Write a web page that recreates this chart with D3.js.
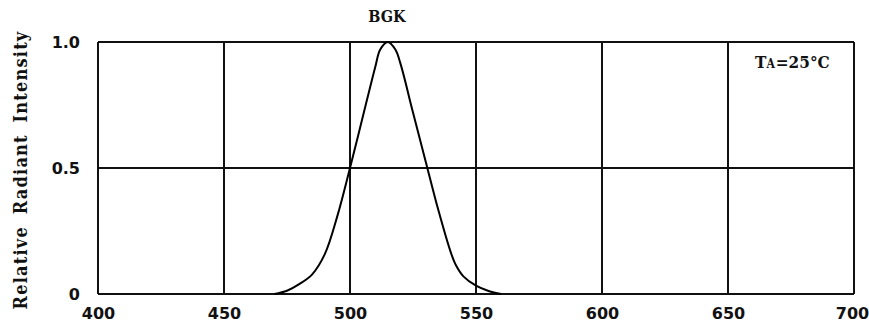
<!DOCTYPE html>
<html>
<head>
<meta charset="utf-8">
<script src="https://cdn.jsdelivr.net/npm/d3@7"></script>
<style>
  body { margin: 0; background: #fff; }
  .tick text { font-family: "DejaVu Sans", sans-serif; font-weight: bold; font-size: 16px; fill: #111; }
  .lbl { font-family: "DejaVu Serif Condensed", "DejaVu Serif", serif; font-weight: bold; fill: #111; }
</style>
</head>
<body>
<div id="chart"></div>
<script>
// spectrum
const wavelength = [470, 475, 480, 485, 490, 495, 500, 505, 510, 512, 515, 518, 520, 525, 530, 535, 540, 542, 545, 550, 555, 560];
const intensity  = [0, 0.013, 0.04, 0.078, 0.158, 0.31, 0.5, 0.7, 0.9, 0.97, 1.0, 0.97, 0.915, 0.72, 0.527, 0.335, 0.165, 0.115, 0.07, 0.033, 0.012, 0];

const xTicks = [400, 450, 500, 550, 600, 650, 700];
const yTicks = [0, 0.5, 1.0];
const yTickLabels = ["0", "0.5", "1.0"];

const margin = { top: 42, left: 98 };

const svg = d3.select("#chart")
    .append("svg")
    .attr("width", 869)
    .attr("height", 329);

const g = svg.append("g")
    .attr("transform", `translate(${margin.left}, ${margin.top})`);

const x = d3.scaleLinear().domain([400, 700]).range([0, 756]);
const y = d3.scaleLinear().domain([0, 1]).range([252, 0]);

// grid
g.selectAll(".vgrid")
    .data(xTicks)
    .join("line")
    .attr("x1", d => x(d)).attr("x2", d => x(d))
    .attr("y1", 0).attr("y2", y(0))
    .attr("stroke", "#111").attr("stroke-width", 2);

g.selectAll(".hgrid")
    .data(yTicks)
    .join("line")
    .attr("x1", 0).attr("x2", x(700))
    .attr("y1", d => y(d)).attr("y2", d => y(d))
    .attr("stroke", "#111").attr("stroke-width", 2);

// axes (labels only)
g.append("g")
    .attr("transform", `translate(0, ${y(0)})`)
    .call(d3.axisBottom(x).tickValues(xTicks).tickSize(0).tickPadding(14).tickFormat(d3.format("d")))
    .call(a => a.select(".domain").remove())
    .call(a => a.selectAll(".tick text").filter(d => d === 700).attr("dx", -2));

g.append("g")
    .call(d3.axisLeft(y).tickValues(yTicks).tickSize(0).tickPadding(18).tickFormat((d, i) => yTickLabels[i]))
    .call(a => a.select(".domain").remove());

// curve
const line = d3.line()
    .x((d, i) => x(wavelength[i]))
    .y(d => y(d))
    .curve(d3.curveCatmullRom.alpha(0.5));

g.append("path")
    .datum(intensity)
    .attr("d", line)
    .attr("fill", "none")
    .attr("stroke", "#000")
    .attr("stroke-width", 2);

// texts
svg.append("text")
    .attr("class", "lbl")
    .attr("x", 387).attr("y", 22)
    .attr("text-anchor", "middle")
    .attr("font-size", 16)
    .text("BGK");

svg.append("text")
    .attr("class", "lbl")
    .attr("transform", "translate(27, 170) rotate(-90)")
    .attr("text-anchor", "middle")
    .attr("font-size", 18)
    .attr("letter-spacing", 1.2)
    .attr("word-spacing", 5)
    .text("Relative Radiant Intensity");

const ta = svg.append("text")
    .attr("class", "lbl")
    .attr("x", 755).attr("y", 68)
    .attr("font-size", 17);
ta.append("tspan").text("T");
ta.append("tspan").attr("font-size", 12).text("A");
ta.append("tspan").attr("dx", 1).text("=25°C");
</script>
</body>
</html>
